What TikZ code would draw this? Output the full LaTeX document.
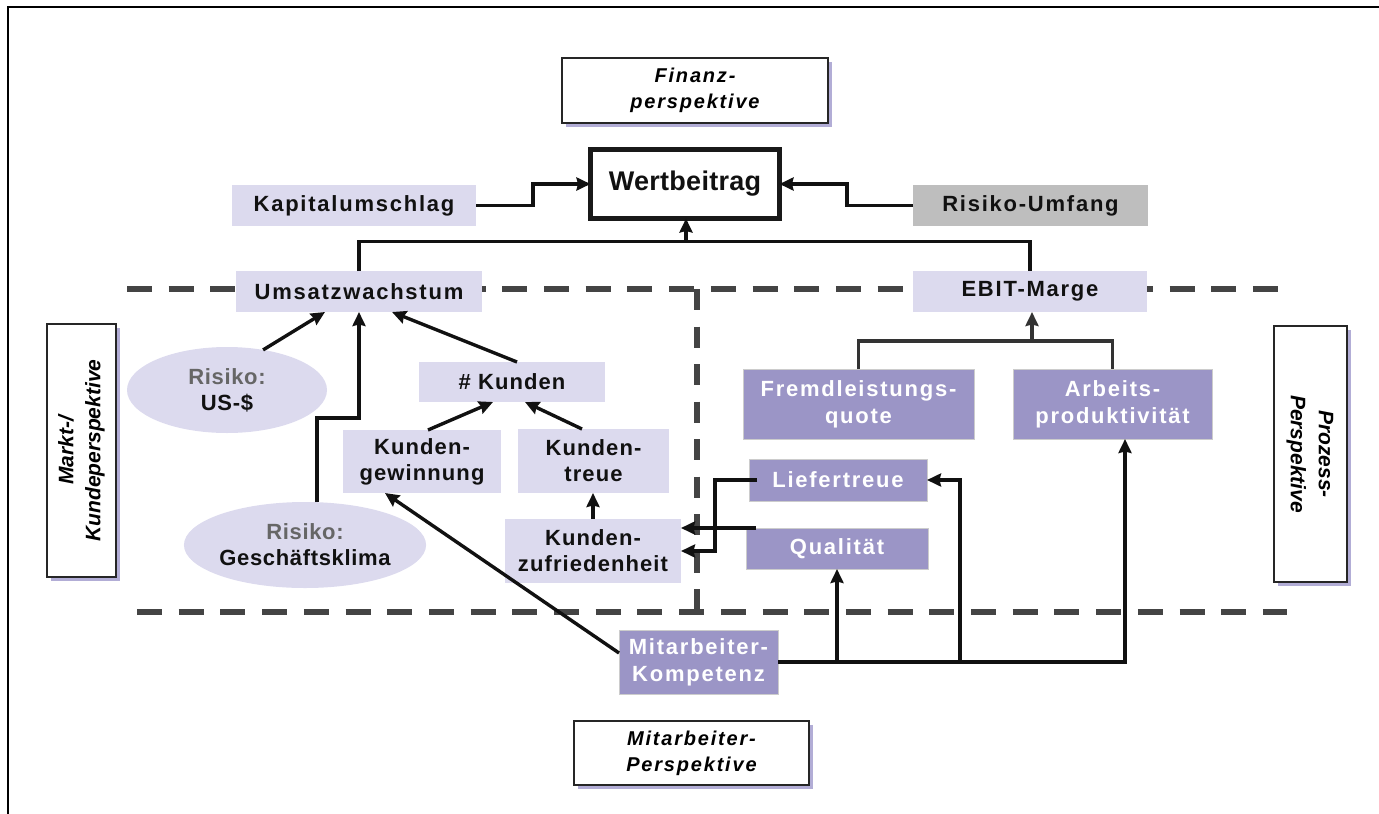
\documentclass[tikz,border=0pt]{standalone}
\usepackage{fontspec}
\setmainfont{Liberation Sans}
\newfontfamily\trackedfont[LetterSpace=8]{Liberation Sans Bold}
\newfontfamily\kundenfont[LetterSpace=5]{Liberation Sans Bold}
\newfontfamily\titlefont[LetterSpace=1]{Liberation Sans Bold}
\newfontfamily\perspfont[LetterSpace=9]{Liberation Sans Bold Italic}
\newfontfamily\sideperspfont{Liberation Sans Bold Italic}
\newfontfamily\ovalfont[LetterSpace=3]{Liberation Sans Bold}
\usetikzlibrary{arrows.meta,shapes.geometric,shadows,calc}

\definecolor{lav}{HTML}{DCDAEE}
\definecolor{pur}{HTML}{9B95C6}
\definecolor{gry}{HTML}{BEBEBE}
\definecolor{shd}{HTML}{B2ADD6}
\definecolor{dsh}{HTML}{444444}
\definecolor{ink}{HTML}{111111}
\definecolor{riskgray}{HTML}{666666}

\tikzset{
  every node/.style={inner sep=0pt, outer sep=0pt, align=center},
  lbox/.style={rectangle, fill=lav, text=ink,
    font=\trackedfont\fontsize{22}{26}\selectfont},
  kbox/.style={rectangle, fill=lav, text=ink,
    font=\kundenfont\fontsize{22}{26}\selectfont},
  pbox/.style={rectangle, fill=pur, draw=black!20, line width=0.8pt, text=white,
    font=\trackedfont\fontsize{22}{27}\selectfont},
  gbox/.style={rectangle, fill=gry, text=ink,
    font=\trackedfont\fontsize{22}{26}\selectfont},
  oval/.style={ellipse, fill=lav, text=ink,
    font=\ovalfont\fontsize{22}{26}\selectfont},
  persp/.style={rectangle, draw=black!85, line width=1.2pt, fill=white,
    drop shadow={shadow xshift=4pt, shadow yshift=-4pt, fill=shd, opacity=1},
    font=\perspfont\fontsize{20}{26}\selectfont},
  conn/.style={draw=ink, line width=3.4pt},
  arr/.style={conn, -{Stealth[length=14pt,width=13pt,inset=1.5pt]}},
  conn2/.style={draw=black!80, line width=3.4pt},
  arr2/.style={conn2, -{Stealth[length=14pt,width=13pt,inset=1.5pt]}},
  sep/.style={draw=dsh, line width=6pt, dash pattern=on 25pt off 16.7pt},
  vsep/.style={draw=dsh, line width=6pt, dash pattern=on 21pt off 16.5pt},
}

\begin{document}
\begin{tikzpicture}[x=1pt, y=-1pt]
\useasboundingbox (0,0) rectangle (1379,814);

% frame
\draw[line width=1.5pt, black] (8,814) -- (8,7) -- (1379,7);

% perspective separators
\draw[sep] (127,289) -- (1280,289);
\draw[sep] (137,612) -- (1287,612);
\draw[vsep] (697,289) -- (697,612);

% perspective labels
\node[persp, minimum width=266pt, minimum height=65pt] (fin) at (695,90.5)
  {Finanz-\\perspektive};
\node[persp, minimum width=235pt, minimum height=64pt] (mitp) at (691.5,753)
  {Mitarbeiter-\\Perspektive};
\node[persp, minimum width=69pt, minimum height=253pt,
  font=\sideperspfont\fontsize{21}{27}\selectfont] (markt) at (81.5,450.5)
  {\rotatebox{90}{\begin{tabular}{@{}c@{}}Markt-/\\Kundeperspektive\end{tabular}}};
\node[persp, minimum width=73pt, minimum height=256pt,
  font=\sideperspfont\fontsize{21}{28}\selectfont] (proz) at (1310.5,454)
  {\rotatebox{-90}{\begin{tabular}{@{}c@{}}Prozess-\\Perspektive\end{tabular}}};

% financial level
\node[rectangle, draw=black!90, line width=5pt, fill=white, text=ink,
  minimum width=189pt, minimum height=69pt,
  font=\titlefont\fontsize{27}{30}\selectfont] (wert) at (685,184) {Wertbeitrag};
\node[lbox, minimum width=244pt, minimum height=41pt] (kap) at (354,205.5) {Kapitalumschlag};
\node[gbox, minimum width=235pt, minimum height=41pt] (risu) at (1030.5,205.5) {Risiko-Umfang};
\node[lbox, minimum width=246pt, minimum height=41pt] (ums) at (359,291.5) {Umsatzwachstum};
\node[lbox, minimum width=234pt, minimum height=41pt] (ebit) at (1030,291.5) {EBIT-Marge};

% market / customer level
\node[oval, minimum width=200pt, minimum height=86pt] (usd) at (227,390)
  {{\color{riskgray}Risiko:}\\US-\$};
\node[oval, minimum width=198pt, minimum height=86pt] (gesch) at (305,545)
  {{\color{riskgray}Risiko:}\\Geschäftsklima};
\node[kbox, minimum width=186pt, minimum height=40pt] (kunden) at (512,382) {\# Kunden};
\node[kbox, minimum width=158pt, minimum height=63pt] (kgew) at (422,461.5) {Kunden-\\gewinnung};
\node[kbox, minimum width=151pt, minimum height=64pt] (ktreue) at (593.5,461) {Kunden-\\treue};
\node[kbox, minimum width=176pt, minimum height=64pt] (kzuf) at (593,551) {Kunden-\\zufriedenheit};

% process level
\node[pbox, minimum width=231pt, minimum height=70pt] (fremd) at (858.5,404) {Fremdleistungs-\\quote};
\node[pbox, minimum width=199pt, minimum height=70pt] (arb) at (1112.5,404) {Arbeits-\\produktivität};
\node[pbox, minimum width=178pt, minimum height=42pt] (liefer) at (838,480) {Liefertreue};
\node[pbox, minimum width=182pt, minimum height=41pt] (qual) at (837,548.5) {Qualität};

% employee level
\node[pbox, minimum width=159pt, minimum height=64pt] (mk) at (698.5,662) {Mitarbeiter-\\Kompetenz};

% connectors: financial
\draw[arr] (kap.east) -- ++(57,0) |- (wert.west);
\draw[arr] (risu.west) -- ++(-66,0) |- (wert.east);
\coordinate (junc) at ($(wert.south)+(1,23)$);
\draw[conn] (ums.north) |- (junc) -| (ebit.north);
\draw[arr] (junc) -- (wert.south -| junc);

% connectors: market / customer
\draw[arr] (usd.48) -- ([xshift=-34pt]ums.south);
\draw[arr] ([xshift=12pt]gesch.north) -- ++(0,-84) -| (ums.south);
\draw[arr] ([xshift=5pt]kunden.north) -- ([xshift=33pt]ums.south);
\draw[arr] ([xshift=6pt]kgew.north) -- ([xshift=-19pt]kunden.south);
\draw[arr] ([xshift=-11.5pt]ktreue.north) -- ([xshift=13pt]kunden.south);
\draw[arr] (kzuf.north) -- (kzuf.north |- ktreue.south);

% connectors: process
\draw[conn2] (fremd.north) -- ++(0,-28) -| (arb.north);
\draw[arr2] ($(ebit.south)+(2,29)$) -- ([xshift=2pt]ebit.south);
\draw[arr] ([xshift=8pt]liefer.west) -- ++(-42,0) |- (kzuf.east);
\draw[arr] ([xshift=10pt]qual.north west) -- (kzuf.east |- qual.north);

% connectors: employee
\draw[arr] (mk.east) -| ([xshift=12.5pt]arb.south);
\draw[arr, line width=4pt] (mk.east -| qual.south) -- (qual.south);
\draw[arr] ($(mk.east -| liefer.east)+(33,0)$) |- (liefer.east);
\draw[arr] ([yshift=9pt]mk.west) -- ([xshift=-37pt]kgew.south);
\end{tikzpicture}
\end{document}
